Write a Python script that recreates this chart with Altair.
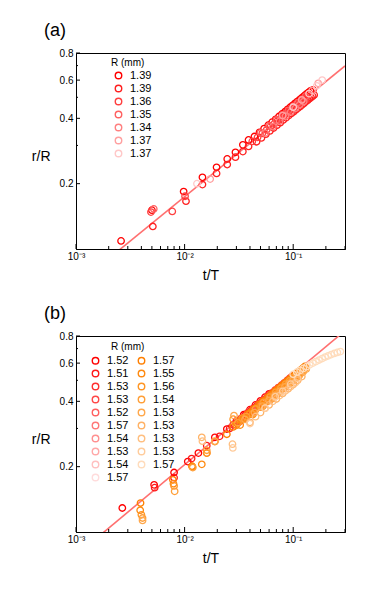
import altair as alt
import pandas as pd

SANS = "Liberation Sans, Arial, sans-serif"

# ---------------- panel (a) ----------------
A_LABELS = ["1.39", "1.39", "1.36", "1.35", "1.34", "1.37", "1.37"]
A_COLORS = ["#ff0000", "#ff2020", "#ff4040", "#ff6060", "#ff8080", "#ffa0a0", "#ffc8c8"]
A_T = [
    [0.0026, 0.0050, 0.0098, 0.0146, 0.0197, 0.0247, 0.0294, 0.0344, 0.0388, 0.044, 0.049, 0.054, 0.059, 0.064,
     0.069, 0.074, 0.079, 0.084, 0.089, 0.094, 0.099, 0.104, 0.109, 0.114, 0.119, 0.124, 0.129, 0.134, 0.139,
     0.144, 0.152],
    [0.0051, 0.0103, 0.0146, 0.0197, 0.0247, 0.0294, 0.0344, 0.0388, 0.046, 0.051, 0.056, 0.061, 0.066, 0.071,
     0.076, 0.081, 0.086, 0.091, 0.096, 0.101, 0.106, 0.111, 0.116, 0.121, 0.126, 0.131, 0.136, 0.141, 0.146,
     0.151, 0.156],
    [0.0049, 0.0077, 0.0101, 0.042, 0.047, 0.052, 0.057, 0.062, 0.067, 0.072, 0.077, 0.082, 0.087, 0.092, 0.097,
     0.102, 0.107, 0.112, 0.117, 0.122, 0.127, 0.132],
    [0.0052, 0.05, 0.06, 0.07, 0.08, 0.09, 0.10, 0.11, 0.12, 0.13],
    [0.055, 0.065, 0.075, 0.085, 0.095, 0.105, 0.115, 0.125],
    [0.0172, 0.08, 0.12, 0.15, 0.17],
    [0.013, 0.10, 0.14, 0.165, 0.185],
]
A_R = [
    [0.109, 0.151, 0.184, 0.214, 0.238, 0.260, 0.279, 0.302, 0.318, 0.330, 0.345, 0.359, 0.372, 0.384, 0.396,
     0.408, 0.419, 0.429, 0.440, 0.450, 0.459, 0.469, 0.478, 0.486, 0.495, 0.503, 0.512, 0.520, 0.527, 0.535,
     0.541],
    [0.127, 0.166, 0.198, 0.223, 0.245, 0.265, 0.281, 0.297, 0.312, 0.325, 0.338, 0.350, 0.361, 0.372, 0.382,
     0.393, 0.402, 0.412, 0.421, 0.429, 0.438, 0.446, 0.454, 0.462, 0.470, 0.478, 0.485, 0.492, 0.499, 0.506,
     0.513],
    [0.148, 0.149, 0.175, 0.313, 0.327, 0.341, 0.354, 0.367, 0.378, 0.390, 0.400, 0.411, 0.421, 0.431, 0.440,
     0.449, 0.458, 0.467, 0.475, 0.483, 0.491, 0.499],
    [0.153, 0.343, 0.369, 0.393, 0.415, 0.435, 0.454, 0.472, 0.489, 0.506],
    [0.342, 0.366, 0.388, 0.409, 0.428, 0.445, 0.462, 0.478],
    [0.210, 0.412, 0.486, 0.538, 0.580],
    [0.200, 0.450, 0.520, 0.565, 0.600],
]
A_FIT = [1.14, 0.408]

# ---------------- panel (b) ----------------
B_LABELS = ["1.52", "1.51", "1.53", "1.53", "1.52", "1.57", "1.54", "1.53", "1.54", "1.57",
            "1.57", "1.55", "1.56", "1.54", "1.53", "1.53", "1.53", "1.53", "1.57"]
B_COLORS = ["#ff0000", "#ff1a1a", "#ff3030", "#ff4848", "#ff6060", "#ff7878", "#ff9090", "#ffa8a8", "#ffc0c0",
            "#ffdcdc",
            "#ff7f00", "#ff8a10", "#ff9625", "#ff9f38", "#ffa84c", "#ffb266", "#ffbf80", "#ffcc9c", "#ffdcbc"]
B_T = [
    [0.00267, 0.00524, 0.0080, 0.0107, 0.0134, 0.019, 0.0245, 0.030, 0.035, 0.040, 0.045, 0.050, 0.055, 0.060],
    [0.0053, 0.0080, 0.0116, 0.016, 0.021, 0.026, 0.031, 0.036, 0.041, 0.046, 0.051, 0.056, 0.061, 0.066],
    [0.028, 0.033, 0.038, 0.043, 0.048, 0.053, 0.058, 0.063, 0.068, 0.073, 0.078, 0.083, 0.088, 0.093, 0.098],
    [0.032, 0.037, 0.042, 0.047, 0.052, 0.057, 0.062, 0.067, 0.072, 0.077, 0.082],
    [0.036, 0.044, 0.052, 0.060, 0.068, 0.076, 0.084],
    [0.04, 0.05, 0.06, 0.07, 0.08, 0.09],
    [0.045, 0.055, 0.065, 0.075],
    [0.05, 0.062, 0.074],
    [0.055, 0.07, 0.085],
    [0.06, 0.08, 0.1],
    [0.00393, 0.0078, 0.0117, 0.016, 0.019, 0.0245, 0.028, 0.033, 0.038, 0.043, 0.048, 0.053, 0.058, 0.063,
     0.068, 0.073, 0.078, 0.083, 0.088, 0.093, 0.098, 0.103, 0.108, 0.113, 0.118, 0.123, 0.128,
     0.0305, 0.0355, 0.0405, 0.0455, 0.0505, 0.0555, 0.0605, 0.0655, 0.0705, 0.0755, 0.0805, 0.0855, 0.0905,
     0.0955, 0.1005, 0.1055, 0.1105, 0.1155, 0.1205],
    [0.0039, 0.0079, 0.0118, 0.0144, 0.03, 0.035, 0.04, 0.045, 0.05, 0.055, 0.06, 0.065, 0.07, 0.075, 0.08,
     0.085, 0.09, 0.095, 0.10, 0.105, 0.11, 0.115, 0.12, 0.125, 0.13,
     0.0325, 0.0425, 0.0525, 0.0625, 0.0725, 0.0825, 0.0925, 0.1025, 0.1125],
    [0.0040, 0.0080, 0.016, 0.028, 0.034, 0.042, 0.05, 0.058, 0.066, 0.074, 0.082, 0.09, 0.098, 0.106, 0.114,
     0.122],
    [0.0041, 0.0081, 0.0119, 0.016, 0.031, 0.037, 0.045, 0.053, 0.061, 0.069, 0.077, 0.085, 0.093, 0.101, 0.109,
     0.117, 0.125],
    [0.0041, 0.019, 0.0285, 0.036, 0.044, 0.052, 0.06, 0.068, 0.076, 0.084, 0.092, 0.1, 0.108, 0.116, 0.124,
     0.132],
    [0.0144, 0.04, 0.05, 0.06, 0.07, 0.08, 0.09, 0.10, 0.11, 0.12],
    [0.0146, 0.0276, 0.045, 0.055, 0.065, 0.075, 0.085, 0.095, 0.105],
    [0.0278, 0.040, 0.0552, 0.0685, 0.08, 0.095, 0.11],
    [0.10, 0.108, 0.116, 0.124, 0.133, 0.142, 0.152, 0.162, 0.173, 0.185, 0.197, 0.21, 0.224, 0.239, 0.255,
     0.272],
]
B_R = [
    [0.129, 0.165, 0.188, 0.211, 0.231, 0.273, 0.298, 0.325, 0.347, 0.366, 0.385, 0.402, 0.418, 0.433],
    [0.160, 0.178, 0.218, 0.250, 0.276, 0.300, 0.325, 0.345, 0.363, 0.380, 0.396, 0.411, 0.425, 0.439],
    [0.312, 0.333, 0.354, 0.372, 0.390, 0.406, 0.421, 0.436, 0.450, 0.463, 0.475, 0.487, 0.499, 0.511, 0.522],
    [0.322, 0.342, 0.361, 0.378, 0.395, 0.410, 0.425, 0.439, 0.452, 0.465, 0.477],
    [0.331, 0.360, 0.387, 0.410, 0.432, 0.453, 0.472],
    [0.350, 0.385, 0.415, 0.442, 0.467, 0.490],
    [0.370, 0.400, 0.428, 0.455],
    [0.380, 0.415, 0.445],
    [0.390, 0.430, 0.465],
    [0.400, 0.450, 0.490],
    [0.136, 0.174, 0.201, 0.231, 0.261, 0.282, 0.305, 0.328, 0.349, 0.368, 0.386, 0.402, 0.418, 0.432, 0.446,
     0.459, 0.472, 0.484, 0.496, 0.507, 0.518, 0.529, 0.539, 0.549, 0.559, 0.569, 0.579,
     0.316, 0.336, 0.356, 0.373, 0.390, 0.405, 0.420, 0.435, 0.448, 0.461, 0.474, 0.486, 0.498,
     0.509, 0.520, 0.530, 0.541, 0.551, 0.561],
    [0.126, 0.167, 0.200, 0.205, 0.310, 0.331, 0.350, 0.368, 0.384, 0.399, 0.414, 0.428, 0.441, 0.454, 0.466,
     0.478, 0.489, 0.500, 0.511, 0.521, 0.531, 0.541, 0.551, 0.560, 0.570,
     0.311, 0.348, 0.380, 0.409, 0.435, 0.459, 0.481, 0.503, 0.522],
    [0.120, 0.163, 0.231, 0.331, 0.335, 0.350, 0.376, 0.400, 0.422, 0.443, 0.462, 0.481, 0.498, 0.515, 0.531,
     0.546],
    [0.116, 0.154, 0.198, 0.238, 0.318, 0.340, 0.368, 0.394, 0.418, 0.440, 0.460, 0.480, 0.498, 0.515, 0.532,
     0.548, 0.563],
    [0.113, 0.262, 0.344, 0.330, 0.355, 0.380, 0.404, 0.426, 0.446, 0.466, 0.484, 0.501, 0.518, 0.534, 0.549,
     0.563],
    [0.273, 0.320, 0.355, 0.385, 0.410, 0.435, 0.457, 0.478, 0.500, 0.520],
    [0.262, 0.254, 0.340, 0.372, 0.400, 0.425, 0.447, 0.468, 0.488],
    [0.244, 0.316, 0.372, 0.420, 0.445, 0.480, 0.510],
    [0.533, 0.545, 0.556, 0.567, 0.578, 0.589, 0.600, 0.610, 0.620, 0.630, 0.640, 0.648, 0.657, 0.665, 0.672,
     0.678],
]
B_FIT = [1.40, 0.418]

# ---------------- axes ----------------
X_DOMAIN = [0.001, 0.3]
Y_DOMAIN = [0.1, 0.8]
X_MAJOR = [0.001, 0.01, 0.1]
X_MINOR = [0.002, 0.003, 0.004, 0.005, 0.006, 0.007, 0.008, 0.009,
           0.02, 0.03, 0.04, 0.05, 0.06, 0.07, 0.08, 0.09, 0.2, 0.3]
Y_MAJOR = [0.2, 0.4, 0.6, 0.8]
Y_MINOR = [0.3, 0.5, 0.7]

W, H = 269, 196


def panel(tag, labels, colors, ts, rs, fit, columns, lx, ly, col_pad, title_xy):
    rows = []
    for i, (tt, rr) in enumerate(zip(ts, rs)):
        for t, r in zip(tt, rr):
            rows.append({"t": t, "r": r, "sid": f"{tag}{i:02d}", "k": i})
    df = pd.DataFrame(rows)
    ids = [f"{tag}{i:02d}" for i in range(len(labels))]
    expr = "".join(f"datum.label == '{ids[i]}' ? '{labels[i]}' : " for i in range(len(labels))) + "''"

    xs = alt.Scale(type="log", domain=X_DOMAIN, nice=False)
    ys = alt.Scale(type="log", domain=Y_DOMAIN, nice=False)

    xaxis = alt.Axis(values=X_MAJOR, grid=False, ticks=False, labelPadding=2, labelFlush=False,
                     labelExpr="datum.value < 0.005 ? '10⁻³' : datum.value < 0.05 ? '10⁻²' : '10⁻¹'",
                     labelFont=SANS, labelFontSize=10, labelColor="black",
                     title="t/T", titleFont=SANS, titleFontSize=14, titleFontWeight="normal",
                     titleColor="black", titleY=26, titleBaseline="middle",
                     domainColor="black", domainWidth=1)
    yaxis = alt.Axis(values=Y_MAJOR, grid=False, ticks=False, labelPadding=3, labelFlush=False,
                     format=".1f", labelFont=SANS, labelFontSize=10, labelColor="black",
                     title="r/R", titleFont=SANS, titleFontSize=14, titleFontWeight="normal",
                     titleColor="black", titleAngle=0, titleX=-26, titleY=103, titleAlign="right",
                     titleBaseline="middle", domainColor="black", domainWidth=1)

    X = alt.X("t:Q", scale=xs, axis=xaxis)
    Y = alt.Y("r:Q", scale=ys, axis=yaxis)

    fit_df = pd.DataFrame({"t": X_DOMAIN, "r": [fit[0] * t ** fit[1] for t in X_DOMAIN]})
    line = alt.Chart(fit_df).mark_line(clip=True, color="#ff7070", strokeWidth=1.6).encode(x=X, y=Y)

    pts = alt.Chart(df).mark_point(filled=False, size=42, strokeWidth=1.3, opacity=1, shape="circle").encode(
        x=X, y=Y,
        color=alt.Color("sid:N", scale=alt.Scale(domain=ids, range=colors),
                        legend=alt.Legend(orient="none", legendX=lx, legendY=ly, title=None, columns=columns,
                                          labelExpr=expr, symbolSize=42, symbolStrokeWidth=1.4,
                                          symbolType="circle", labelFont=SANS, labelFontSize=11,
                                          labelColor="black", rowPadding=0, columnPadding=col_pad,
                                          labelOffset=6, padding=0)),
        order=alt.Order("k:Q"))

    xt_min = alt.Chart(pd.DataFrame({"t": X_MINOR})).mark_rule(color="black", strokeWidth=1).encode(
        x=X, y=alt.value(H), y2=alt.value(H - 3))
    xt_maj = alt.Chart(pd.DataFrame({"t": X_MAJOR})).mark_rule(color="black", strokeWidth=1).encode(
        x=X, y=alt.value(H), y2=alt.value(H - 5))
    yt_maj = alt.Chart(pd.DataFrame({"r": Y_MAJOR})).mark_rule(color="black", strokeWidth=1).encode(
        y=Y, x=alt.value(0), x2=alt.value(4))
    yt_min = alt.Chart(pd.DataFrame({"r": Y_MINOR})).mark_rule(color="black", strokeWidth=1).encode(
        y=Y, x=alt.value(0), x2=alt.value(2))

    leg_title = alt.Chart(pd.DataFrame({"s": ["R (mm)"]})).mark_text(
        align="left", baseline="middle", font=SANS, fontSize=10, color="black").encode(
        text="s:N", x=alt.value(title_xy[0]), y=alt.value(title_xy[1]))

    return alt.layer(line, pts, xt_min, xt_maj, yt_maj, yt_min, leg_title).properties(
        width=W, height=H,
        title=alt.TitleParams(f"({tag})", anchor="start", frame="group", dx=-32, fontSize=18,
                              fontWeight="normal", font=SANS, color="black", offset=8))


pa = panel("a", A_LABELS, A_COLORS, A_T, A_R, A_FIT, 1, 37, 17, 6, (35, 10))
pb = panel("b", B_LABELS, B_COLORS, B_T, B_R, B_FIT, 2, 14, 19, 6, (35, 11))

chart = alt.vconcat(pa, pb, spacing=21).resolve_scale(color="independent").resolve_legend(
    color="independent").properties(
    padding={"left": 22, "top": 13, "right": 5, "bottom": 5}
).configure_view(stroke="black", strokeWidth=1)

chart.save("out.html", embed_options={"renderer": "svg", "actions": False})
